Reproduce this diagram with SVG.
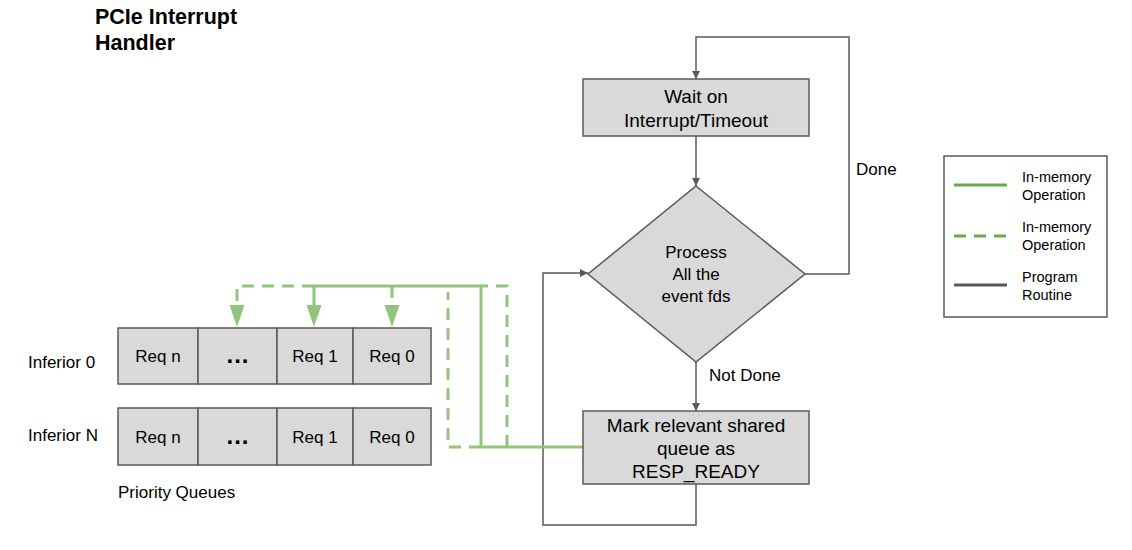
<svg xmlns="http://www.w3.org/2000/svg" width="1132" height="550" viewBox="0 0 1132 550">
<style>
text{font-family:"Liberation Sans",Arial,sans-serif;fill:#000}
.box{fill:#d9d9d9;stroke:#595959;stroke-width:1.5}
.g{fill:none;stroke:#93c47d;stroke-width:3}
.gd{fill:none;stroke:#93c47d;stroke-width:3;stroke-dasharray:12 8}
.k{fill:none;stroke:#595959;stroke-width:1.5}
.t17{font-size:17px}
.t19{font-size:19px}
.t15{font-size:14.5px}
.dots{font-size:24px;font-weight:bold;letter-spacing:1px}
</style>
<defs>
<marker id="ah" viewBox="0 0 10 10" refX="10" refY="5" markerWidth="8" markerHeight="8" markerUnits="userSpaceOnUse" orient="auto"><path d="M0,0 L10,5 L0,10 z" fill="#595959"/></marker>
</defs>
<rect width="1132" height="550" fill="#fff"/>
<g id="title">
<text x="95" y="24" font-size="21.5" font-weight="bold">PCIe Interrupt</text>
<text x="95" y="50" font-size="21.5" font-weight="bold">Handler</text>
</g>
<g id="connectors">
<path class="k" d="M805,274 L849,274 L849,37 L696,37 L696,79" marker-end="url(#ah)"/>
<path class="k" d="M696,136 L696,186" marker-end="url(#ah)"/>
<path class="k" d="M696,362 L696,411" marker-end="url(#ah)"/>
<path class="k" d="M696,484 L696,525 L543,525 L543,273 L588,273" marker-end="url(#ah)"/>
<path class="g" d="M583,447 L481,447 L481,286 L314,286 L314,306"/>
<path class="gd" d="M481,447 L448,447 L448,292"/>
<path class="gd" d="M507,447 L507,286 L481,286"/>
<path class="gd" d="M314,286 L237,286 L237,306"/>
<path class="gd" d="M392,286 L392,306"/>
<path d="M229.5,305 L244.5,305 L237,327 z" fill="#93c47d"/>
<path d="M306.5,305 L321.5,305 L314,327 z" fill="#93c47d"/>
<path d="M384.5,305 L399.5,305 L392,327 z" fill="#93c47d"/>
</g>
<g id="wait">
<rect class="box" x="583" y="79" width="226" height="57"/>
<text class="t19" x="696" y="103" text-anchor="middle">Wait on</text>
<text class="t19" x="696" y="127" text-anchor="middle">Interrupt/Timeout</text>
</g>
<g id="process">
<path class="box" d="M696,186 L805,274 L696,362 L588,274 z"/>
<text class="t17" x="696" y="258" text-anchor="middle">Process</text>
<text class="t17" x="696" y="280" text-anchor="middle">All the</text>
<text class="t17" x="696" y="302" text-anchor="middle">event fds</text>
</g>
<g id="mark">
<rect class="box" x="583" y="411" width="226" height="73"/>
<text class="t19" x="696" y="432" text-anchor="middle">Mark relevant shared</text>
<text class="t19" x="696" y="455" text-anchor="middle">queue as</text>
<text class="t19" x="696" y="478" text-anchor="middle">RESP_READY</text>
</g>
<g id="labels">
<text class="t17" x="856" y="175">Done</text>
<text class="t17" x="709" y="381">Not Done</text>
</g>
<g id="queue0">
<rect class="box" x="118" y="328" width="80" height="56"/>
<rect class="box" x="198" y="328" width="79" height="56"/>
<rect class="box" x="277" y="328" width="76" height="56"/>
<rect class="box" x="353" y="328" width="78" height="56"/>
<text class="t17" x="158" y="362" text-anchor="middle">Req n</text>
<text class="dots" x="238" y="363" text-anchor="middle">...</text>
<text class="t17" x="315" y="362" text-anchor="middle">Req 1</text>
<text class="t17" x="392" y="362" text-anchor="middle">Req 0</text>
<text class="t17" x="28" y="368">Inferior 0</text>
</g>
<g id="queueN">
<rect class="box" x="118" y="408" width="80" height="57"/>
<rect class="box" x="198" y="408" width="79" height="57"/>
<rect class="box" x="277" y="408" width="76" height="57"/>
<rect class="box" x="353" y="408" width="78" height="57"/>
<text class="t17" x="158" y="443" text-anchor="middle">Req n</text>
<text class="dots" x="238" y="444" text-anchor="middle">...</text>
<text class="t17" x="315" y="443" text-anchor="middle">Req 1</text>
<text class="t17" x="392" y="443" text-anchor="middle">Req 0</text>
<text class="t17" x="28" y="441">Inferior N</text>
</g>
<g id="pq">
<text class="t17" x="118" y="498">Priority Queues</text>
</g>
<g id="legend">
<rect x="944" y="156" width="163" height="161" fill="#fff" stroke="#595959" stroke-width="1.5"/>
<line x1="954" y1="185" x2="1007" y2="185" stroke="#6aa84f" stroke-width="3"/>
<line x1="954" y1="236" x2="1007" y2="236" stroke="#6aa84f" stroke-width="3" stroke-dasharray="12 8"/>
<line x1="954" y1="285" x2="1007" y2="285" stroke="#595959" stroke-width="3"/>
<text class="t15" x="1022" y="182">In-memory</text>
<text class="t15" x="1022" y="200">Operation</text>
<text class="t15" x="1022" y="232">In-memory</text>
<text class="t15" x="1022" y="250">Operation</text>
<text class="t15" x="1022" y="282">Program</text>
<text class="t15" x="1022" y="300">Routine</text>
</g>
</svg>
